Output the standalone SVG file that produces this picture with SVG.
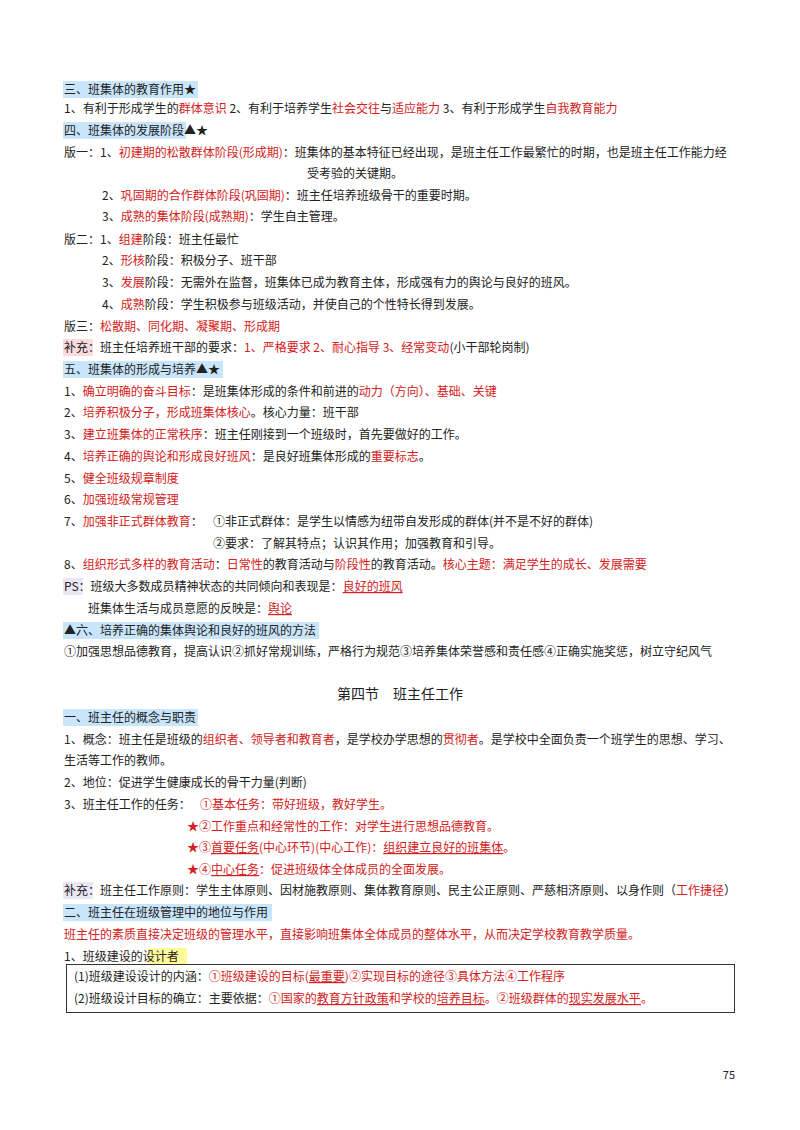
<svg xmlns="http://www.w3.org/2000/svg" width="800" height="1130" viewBox="0 0 800 1130">
<style>
text{font-family:"Noto Sans CJK SC","Noto Sans",sans-serif;font-size:12px;fill:#222}
.r{fill:#d42020}
.u{text-decoration:underline}
.hb{fill:#c9e5fb}
.hp{fill:#fadbe0}
.hl{fill:#ebe6f4}
.hy{fill:#fffa99}
</style>
<rect width="800" height="1130" fill="#fff"/>
<g id="highlights">
<rect class="hb" x="63" y="81" width="135" height="17"/>
<rect class="hb" x="63" y="122" width="123" height="17"/>
<rect class="hp" x="63" y="339" width="30" height="17"/>
<rect class="hb" x="63" y="361" width="160" height="17"/>
<rect class="hl" x="63" y="578" width="20" height="17"/>
<rect class="hb" x="63" y="622" width="256" height="17"/>
<rect class="hb" x="63" y="709" width="135" height="17"/>
<rect class="hl" x="63" y="882" width="30" height="17"/>
<rect class="hb" x="63" y="904" width="209" height="17"/>
<rect class="hy" x="148" y="948" width="39" height="17"/>
</g>
<g id="sec3">
<text x="64" y="94">三、班集体的教育作用★</text>
<text x="64" y="113">1、有利于形成学生的<tspan class="r">群体意识</tspan> 2、有利于培养学生<tspan class="r">社会交往</tspan>与<tspan class="r">适应能力</tspan> 3、有利于形成学生<tspan class="r">自我教育能力</tspan></text>
</g>
<g id="sec4">
<text x="64" y="135">四、班集体的发展阶段▲★</text>
<text x="64" y="157">版一：1、<tspan class="r">初建期的松散群体阶段(形成期)</tspan>：班集体的基本特征已经出现，是班主任工作最繁忙的时期，也是班主任工作能力经</text>
<text x="307" y="178">受考验的关键期。</text>
<text x="102" y="200">2、<tspan class="r">巩固期的合作群体阶段(巩固期)</tspan>：班主任培养班级骨干的重要时期。</text>
<text x="102" y="221">3、<tspan class="r">成熟的集体阶段(成熟期)</tspan>：学生自主管理。</text>
<text x="64" y="244">版二：1、<tspan class="r">组建</tspan>阶段：班主任最忙</text>
<text x="102" y="265">2、<tspan class="r">形核</tspan>阶段：积极分子、班干部</text>
<text x="102" y="287">3、<tspan class="r">发展</tspan>阶段：无需外在监督，班集体已成为教育主体，形成强有力的舆论与良好的班风。</text>
<text x="102" y="309">4、<tspan class="r">成熟</tspan>阶段：学生积极参与班级活动，并使自己的个性特长得到发展。</text>
<text x="64" y="331">版三：<tspan class="r">松散期、同化期、凝聚期、形成期</tspan></text>
<text x="64" y="352">补充：班主任培养班干部的要求：<tspan class="r">1、严格要求 2、耐心指导 3、经常变动</tspan>(小干部轮岗制)</text>
</g>
<g id="sec5">
<text x="64" y="374">五、班集体的形成与培养▲★</text>
<text x="64" y="396">1、<tspan class="r">确立明确的奋斗目标</tspan>：是班集体形成的条件和前进的<tspan class="r">动力（方向）、基础、关键</tspan></text>
<text x="64" y="417">2、<tspan class="r">培养积极分子，形成班集体核心</tspan>。核心力量：班干部</text>
<text x="64" y="439">3、<tspan class="r">建立班集体的正常秩序</tspan>：班主任刚接到一个班级时，首先要做好的工作。</text>
<text x="64" y="461">4、<tspan class="r">培养正确的舆论和形成良好班风</tspan>：是良好班集体形成的<tspan class="r">重要标志</tspan>。</text>
<text x="64" y="483">5、<tspan class="r">健全班级规章制度</tspan></text>
<text x="64" y="504">6、<tspan class="r">加强班级常规管理</tspan></text>
<text x="64" y="526">7、<tspan class="r">加强非正式群体教育</tspan>：</text>
<text x="213" y="526">①非正式群体：是学生以情感为纽带自发形成的群体(并不是不好的群体)</text>
<text x="213" y="548">②要求：了解其特点；认识其作用；加强教育和引导。</text>
<text x="64" y="569">8、<tspan class="r">组织形式多样的教育活动</tspan>：<tspan class="r">日常性</tspan>的教育活动与<tspan class="r">阶段性</tspan>的教育活动。<tspan class="r">核心主题：满足学生的成长、发展需要</tspan></text>
<text x="64" y="591">PS：班级大多数成员精神状态的共同倾向和表现是：<tspan class="r u">良好的班风</tspan></text>
<text x="88" y="613">班集体生活与成员意愿的反映是：<tspan class="r u">舆论</tspan></text>
</g>
<g id="sec6">
<text x="64" y="635">▲六、培养正确的集体舆论和良好的班风的方法</text>
<text x="64" y="656">①加强思想品德教育，提高认识②抓好常规训练，严格行为规范③培养集体荣誉感和责任感④正确实施奖惩，树立守纪风气</text>
</g>
<g id="section4">
<text x="400" y="699" text-anchor="middle" style="font-size:14px">第四节　班主任工作</text>
<text x="64" y="722">一、班主任的概念与职责</text>
<text x="64" y="744">1、概念：班主任是班级的<tspan class="r">组织者、领导者和教育者</tspan>，是学校办学思想的<tspan class="r">贯彻者</tspan>。是学校中全面负责一个班学生的思想、学习、</text>
<text x="64" y="765">生活等工作的教师。</text>
<text x="64" y="787">2、地位：促进学生健康成长的骨干力量(判断)</text>
<text x="64" y="809">3、班主任工作的任务：</text>
<text x="200" y="809" class="r">①基本任务：带好班级，教好学生。</text>
<text x="187" y="831" class="r">★②工作重点和经常性的工作：对学生进行思想品德教育。</text>
<text x="187" y="852" class="r">★③<tspan class="u">首要任务</tspan>(中心环节)(中心工作)：<tspan class="u">组织建立良好的班集体</tspan>。</text>
<text x="187" y="874" class="r">★④<tspan class="u">中心任务</tspan>：促进班级体全体成员的全面发展。</text>
<text x="64" y="895">补充：班主任工作原则：学生主体原则、因材施教原则、集体教育原则、民主公正原则、严慈相济原则、以身作则（<tspan class="r">工作捷径</tspan>）</text>
<text x="64" y="917">二、班主任在班级管理中的地位与作用</text>
<text x="64" y="939" class="r">班主任的素质直接决定班级的管理水平，直接影响班集体全体成员的整体水平，从而决定学校教育教学质量。</text>
<text x="64" y="961">1、班级建设的设计者</text>
</g>
<g id="box">
<rect x="66.5" y="964.5" width="668" height="48" fill="none" stroke="#333" stroke-width="1"/>
<text x="74" y="981">(1)班级建设设计的内涵：<tspan class="r">①班级建设的目标(<tspan class="u">最重要</tspan>)②实现目标的途径③具体方法④工作程序</tspan></text>
<text x="74" y="1003">(2)班级设计目标的确立：主要依据：<tspan class="r">①国家的<tspan class="u">教育方针政策</tspan>和学校的<tspan class="u">培养目标</tspan>。②班级群体的<tspan class="u">现实发展水平</tspan>。</tspan></text>
</g>
<text x="735" y="1079" text-anchor="end" style="font-size:11px">75</text>
</svg>
